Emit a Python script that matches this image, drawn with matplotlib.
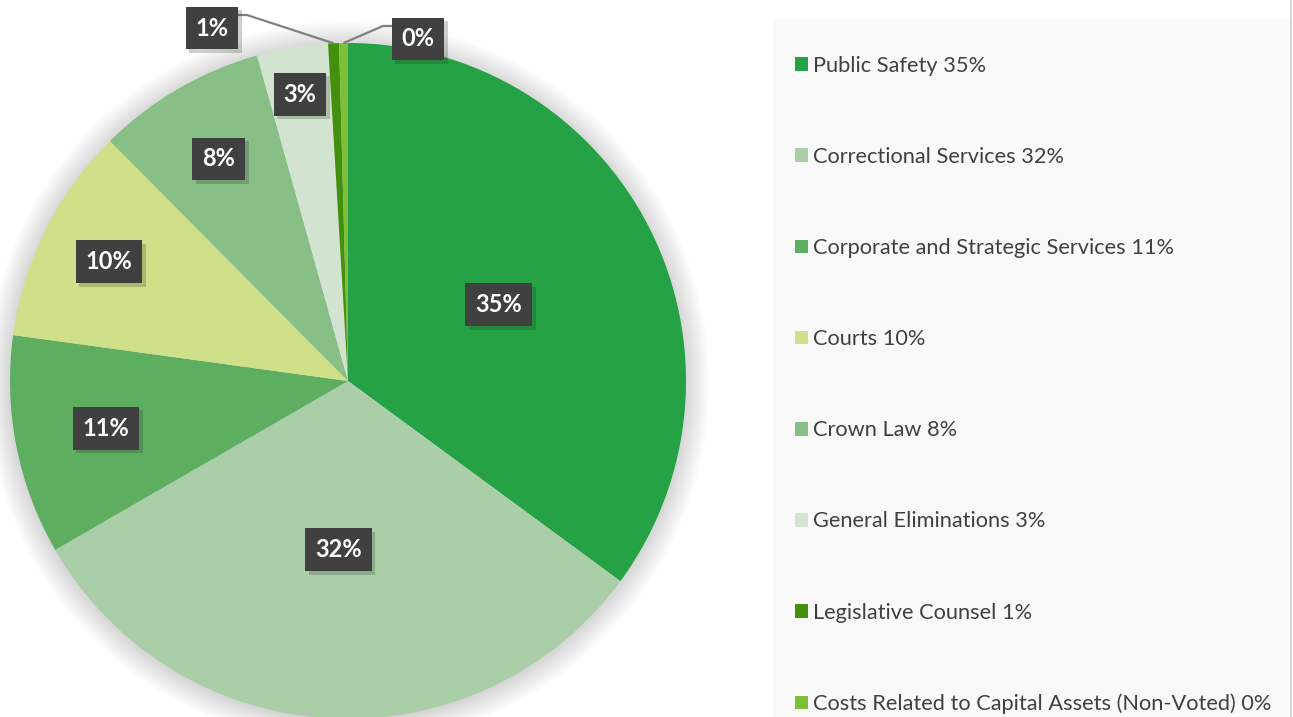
import numpy as np
import matplotlib
matplotlib.use('Agg')
import matplotlib.pyplot as plt
from matplotlib.patches import Circle, Rectangle
from matplotlib.lines import Line2D
import matplotlib.patheffects as pe

plt.rcParams['font.family'] = ['Lato', 'DejaVu Sans']

# data (share of budget, %)
categories = ['Public Safety', 'Correctional Services', 'Corporate and Strategic Services',
              'Courts', 'Crown Law', 'General Eliminations', 'Legislative Counsel',
              'Costs Related to Capital Assets (Non-Voted)']
shares = [35.1, 31.6, 10.5, 10.4, 8.1, 3.4, 0.52, 0.42]
pct_labels = ['35%', '32%', '11%', '10%', '8%', '3%', '1%', '0%']
colors = ['#25A245', '#AACFA8', '#5EAE62', '#D0E089', '#87BF86', '#D2E4D0', '#43900D', '#7CC03A']

W, H = 1293, 717
fig = plt.figure(figsize=(W / 100, H / 100), dpi=100)
fig.patch.set_facecolor('white')

# legend panel on the right
fig.patches.append(Rectangle((773 / W, 0), (1290 - 773) / W, (717 - 19) / H,
                             transform=fig.transFigure, facecolor='#F9F9F9',
                             edgecolor='none', zorder=0))
fig.lines.append(Line2D([1290.5 / W, 1290.5 / W], [0, 1], transform=fig.transFigure,
                        color='#D0D0D0', lw=1.2))

ax = fig.add_axes([10 / W, -2 / H, 676 / W, 676 / H])

# soft shadow round the pie
for r in np.linspace(1.0, 1.07, 14):
    ax.add_patch(Circle((0.0, -0.005), r, facecolor='black', edgecolor='none',
                        alpha=0.012, zorder=0, clip_on=False))

wedges, _ = ax.pie(shares, colors=colors, startangle=90, counterclock=False,
                   radius=1.0, center=(0, 0), frame=True,
                   wedgeprops=dict(linewidth=0, zorder=2))
ax.set_xlim(-1, 1)
ax.set_ylim(-1, 1)
ax.axis('off')

box = dict(boxstyle='square,pad=0.42', facecolor='#404040', linewidth=0)
label_r = [0.5, 0.5, 0.73, 0.79, 0.76, 0.86]

def add_box(txt, x, y):
    t = ax.text(x, y, txt, ha='center', va='center', color='white', fontsize=17,
                fontweight='bold', bbox=box, zorder=5)
    t.get_bbox_patch().set_path_effects([
        pe.SimplePatchShadow(offset=(2.5, -2.5), shadow_rgbFace='#1e2e1e', alpha=0.22),
        pe.Normal()])
    return t

for w, lab, rr in zip(wedges[:6], pct_labels[:6], label_r):
    ang = np.deg2rad((w.theta1 + w.theta2) / 2)
    add_box(lab, rr * np.cos(ang), rr * np.sin(ang))

# the two thin slices get labels outside with leader lines
def px(X, Y):
    return (X - 348) / 338, (381 - Y) / 338

for w, lab, box_xy, elbow in [(wedges[6], pct_labels[6], (212, 28), (247, 15)),
                              (wedges[7], pct_labels[7], (418, 39), (383, 26))]:
    ang = np.deg2rad((w.theta1 + w.theta2) / 2)
    tip = (np.cos(ang), np.sin(ang))
    bx, by = px(*box_xy)
    ex, ey = px(*elbow)
    side = 1 if ex > bx else -1
    end_x = px(box_xy[0] + side * 25, 0)[0]
    ax.plot([tip[0], ex, end_x], [tip[1], ey, ey], color='#808080', lw=1.6,
            zorder=4, clip_on=False, solid_capstyle='butt')
    t = add_box(lab, bx, by)
    t.set_clip_on(False)

leg = fig.legend(wedges, [f'{c} {p}' for c, p in zip(categories, pct_labels)],
                 loc='upper left', bbox_to_anchor=(795 / W, 1 - 56 / H),
                 frameon=False, fontsize=15.7, labelcolor='#404040',
                 handlelength=0.6, handleheight=0.6, handletextpad=0.22,
                 labelspacing=3.26, borderpad=0, borderaxespad=0)

fig.savefig('out.png', dpi=100, facecolor='white')
